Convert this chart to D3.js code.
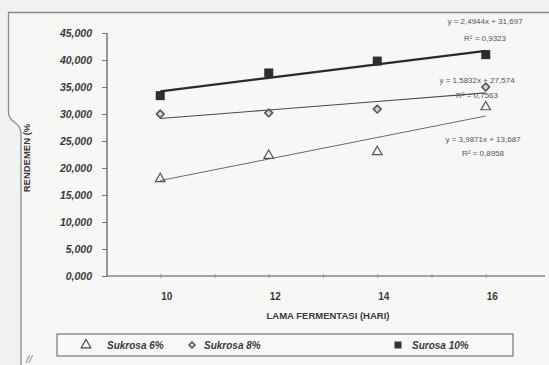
<!DOCTYPE html>
<html>
<head>
<meta charset="utf-8">
<script src="https://cdn.jsdelivr.net/npm/d3@7"></script>
<style>
  html, body { margin: 0; padding: 0; background: #f1f1f0; }
  svg { display: block; }
  text { font-family: "Liberation Sans", Arial, sans-serif; }
</style>
</head>
<body>
<svg id="chart" width="549" height="365"></svg>
<script>
// Fermentation days (category axis) and yield per sucrose level, in %
const days = [10, 12, 14, 16];
const sukrosa6 = [18.0, 22.3, 23.0, 31.3];
const sukrosa8 = [30.0, 30.2, 30.9, 35.0];
const sukrosa10 = [33.4, 37.6, 39.8, 41.0];

// Linear trend coefficients (x = category index 1..4) and R²
const trend6 = { slope: 3.9871, intercept: 13.687, r2: 0.8958 };
const trend8 = { slope: 1.5832, intercept: 27.574, r2: 0.7563 };
const trend10 = { slope: 2.4944, intercept: 31.697, r2: 0.9323 };

const yTicks = [0, 5, 10, 15, 20, 25, 30, 35, 40, 45];
const xLabels = [10, 12, 14, 16];
const seriesNames = ["Sukrosa 6%", "Sukrosa 8%", "Surosa 10%"];

const svg = d3.select("#chart");

const x = d3.scaleLinear().domain([9, 17]).range([106, 540]);
const y = d3.scaleLinear().domain([0, 45]).range([276, 33]);

const fmt = v => d3.format(",.3f")(v).replace(".", "#").replace(",", ".").replace("#", ",");
const fmt4 = v => d3.format(".4f")(v).replace(".", ",");
const fmt3 = v => d3.format(".3f")(v).replace(".", ",");

// Chart frame
svg.append("path")
  .attr("d", "M549,12.5 H8.5 V112 Q8.5,118 14,122 Q21,126 21,134 V366 H550 V12.5 Z")
  .attr("fill", "#f7f7f6").attr("stroke", "none");
svg.append("path")
  .attr("d", "M549,12.5 H8.5 V112 Q8.5,118 14,122 Q21,126 21,134 V365")
  .attr("fill", "none").attr("stroke", "#8a8a8a").attr("stroke-width", 1.3);

// Y axis
const yAxis = d3.axisLeft(y).tickValues(yTicks).tickSize(5).tickFormat(fmt);
const gy = svg.append("g").attr("transform", "translate(107,0)").call(yAxis);
gy.select(".domain").attr("stroke", "#555").attr("stroke-width", 1.2).attr("d", `M0,${y(45)}V${y(0)}`);
gy.selectAll(".tick line").attr("stroke", "#777");
gy.selectAll(".tick text")
  .attr("x", -15)
  .attr("fill", "#3a3a3a")
  .style("font-size", "10.5px").style("font-weight", "bold").style("font-style", "italic");

// X axis
const xAxis = d3.axisBottom(x).tickValues(d3.range(10, 17, 1)).tickSize(3)
  .tickFormat(d => xLabels.includes(d) ? d : "");
const gx = svg.append("g").attr("transform", `translate(0,${y(0)})`).call(xAxis);
gx.select(".domain").attr("stroke", "#555").attr("stroke-width", 1.2).attr("d", `M107,0H545`);
gx.selectAll(".tick line").attr("stroke", "#999").attr("y1", -2).attr("y2", 2);
gx.selectAll(".tick text")
  .attr("y", 17).attr("dx", 6)
  .attr("fill", "#3a3a3a")
  .style("font-size", "10px").style("font-weight", "bold");

// Axis titles
svg.append("text")
  .attr("x", 328).attr("y", 319)
  .attr("text-anchor", "middle")
  .attr("fill", "#3a3a3a")
  .style("font-size", "9.5px").style("font-weight", "bold")
  .text("LAMA FERMENTASI (HARI)");

svg.append("text")
  .attr("transform", "translate(30,158) rotate(-90)")
  .attr("text-anchor", "middle")
  .attr("fill", "#3a3a3a")
  .style("font-size", "9.5px").style("font-weight", "bold")
  .text("RENDEMEN (%");

// Trend lines (index-based, drawn across the four categories)
const trendLine = t => days.map((d, i) => [x(d), y(t.intercept + t.slope * (i + 1))]);
const line = d3.line();
svg.append("path").attr("d", line(trendLine(trend6))).attr("fill", "none").attr("stroke", "#6a6a6a").attr("stroke-width", 1);
svg.append("path").attr("d", line(trendLine(trend8))).attr("fill", "none").attr("stroke", "#4a4a4a").attr("stroke-width", 1.1);
svg.append("path").attr("d", line(trendLine(trend10))).attr("fill", "none").attr("stroke", "#2a2a2a").attr("stroke-width", 2.2);

// Markers
const tri = d3.symbol().type(d3.symbolTriangle).size(40);
const dia = d3.symbol().type(d3.symbolSquare).size(30);

svg.append("g").selectAll("path").data(sukrosa6).join("path")
  .attr("transform", (v, i) => `translate(${x(days[i])},${y(v)})`)
  .attr("d", tri()).attr("fill", "none").attr("stroke", "#555").attr("stroke-width", 1.2);

svg.append("g").selectAll("path").data(sukrosa8).join("path")
  .attr("transform", (v, i) => `translate(${x(days[i])},${y(v)}) rotate(45)`)
  .attr("d", dia()).attr("fill", "#d4d4d4").attr("stroke", "#555").attr("stroke-width", 1.6)
  .attr("stroke-linejoin", "round");

svg.append("g").selectAll("rect").data(sukrosa10).join("rect")
  .attr("x", (v, i) => x(days[i]) - 4.5).attr("y", v => y(v) - 4.5)
  .attr("width", 9).attr("height", 9)
  .attr("fill", "#2e2e2e");

// Trend equations
const eqs = [
  { t: trend10, cx: 485, y1: 24, y2: 41 },
  { t: trend8, cx: 477, y1: 83, y2: 98 },
  { t: trend6, cx: 483, y1: 142, y2: 156 }
];
eqs.forEach(e => {
  svg.append("text").attr("x", e.cx).attr("y", e.y1).attr("text-anchor", "middle")
    .attr("fill", "#555").style("font-size", "8px")
    .text(`y = ${fmt4(e.t.slope)}x + ${fmt3(e.t.intercept)}`);
  svg.append("text").attr("x", e.cx).attr("y", e.y2).attr("text-anchor", "middle")
    .attr("fill", "#555").style("font-size", "8px")
    .text(`R² = ${fmt4(e.t.r2)}`);
});

// Legend
const lg = svg.append("g");
lg.append("rect").attr("x", 57).attr("y", 334).attr("width", 456).attr("height", 22)
  .attr("fill", "#f8f8f8").attr("stroke", "#777").attr("stroke-width", 1.2);
const items = [
  { sx: 86, tx: 107, name: seriesNames[0], kind: "tri" },
  { sx: 192, tx: 204, name: seriesNames[1], kind: "dia" },
  { sx: 398, tx: 412, name: seriesNames[2], kind: "sq" }
];
items.forEach(it => {
  const g = lg.append("g").attr("transform", `translate(${it.sx},345)`);
  if (it.kind === "tri") g.append("path").attr("d", tri()).attr("fill", "none").attr("stroke", "#444").attr("stroke-width", 1.2);
  if (it.kind === "dia") g.append("path").attr("transform", "rotate(45)").attr("d", d3.symbol().type(d3.symbolSquare).size(18)()).attr("fill", "#ddd").attr("stroke", "#444").attr("stroke-width", 1.3);
  if (it.kind === "sq") g.append("rect").attr("x", -3.5).attr("y", -3.5).attr("width", 7).attr("height", 7).attr("fill", "#333");
  lg.append("text").attr("x", it.tx).attr("y", 348.5)
    .attr("fill", "#3a3a3a")
    .style("font-size", "10px").style("font-weight", "bold").style("font-style", "italic")
    .text(it.name);
});

// Pen mark under the frame
svg.append("text").attr("x", 26).attr("y", 363)
  .attr("fill", "#777").style("font-size", "11px").style("font-style", "italic")
  .text("//");
</script>
</body>
</html>
